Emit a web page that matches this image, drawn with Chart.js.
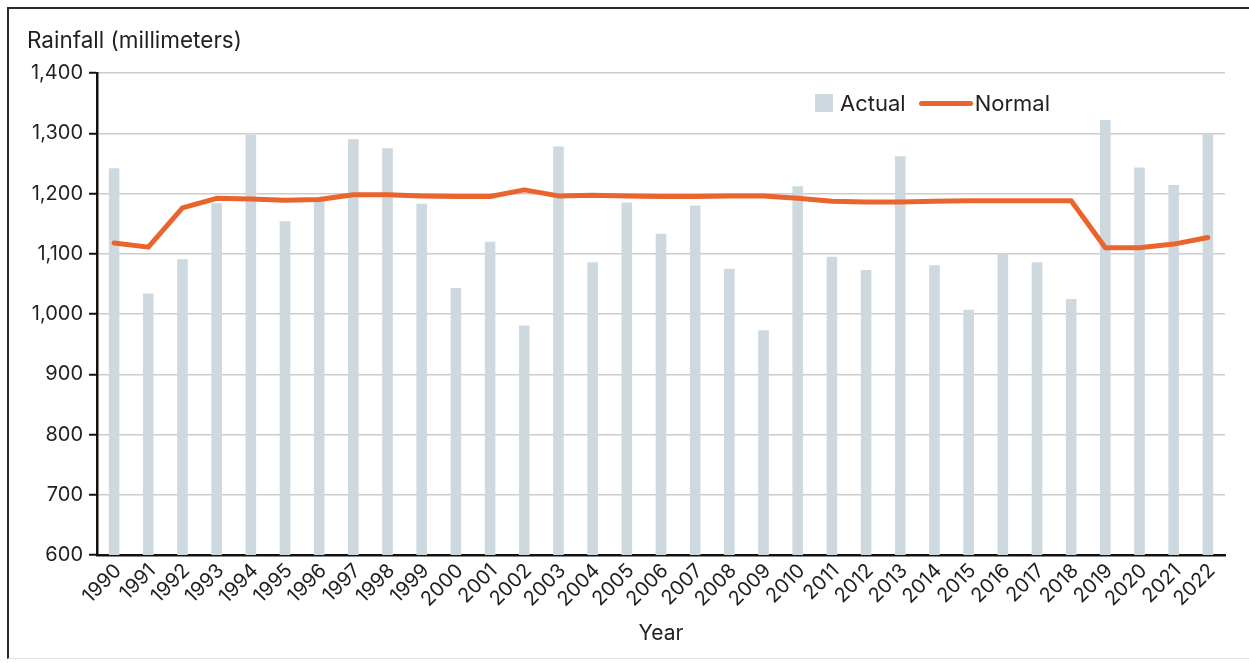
<!DOCTYPE html>
<html>
<head>
<meta charset="utf-8">
<title>Rainfall</title>
<script src="https://cdn.jsdelivr.net/npm/chart.js@4.4.1/dist/chart.umd.min.js"></script>
<style>
  html, body { margin: 0; padding: 0; background: #fff; }
  body { width: 1249px; height: 663px; position: relative; overflow: hidden;
         font-family: Inter, "Liberation Sans", sans-serif; color: #231f20; }
  #frame { position: absolute; left: 7px; top: 7px; width: 1250px; height: 652px;
           border-left: 2px solid #2a2a2a; border-top: 2px solid #2a2a2a;
           border-bottom: 1px solid #e2e2e2; box-sizing: border-box; }
  #wrap { position: absolute; left: 0; top: 0; width: 1249px; height: 663px; }
  #ytitle { position: absolute; left: 27px; top: 26px; font-size: 22.5px; white-space: nowrap; }
  #legend { position: absolute; left: 815px; top: 90px; display: flex; align-items: center;
            font-size: 22px; white-space: nowrap; }
  .sw-box { width: 18px; height: 18px; margin-right: 7px; }
  .sw-line { width: 54px; height: 5px; border-radius: 3px; margin: 0 2px 0 13px; }
</style>
</head>
<body>
<div id="frame"></div>
<div id="wrap"><canvas id="c" width="1249" height="663"></canvas></div>
<div id="ytitle">Rainfall (millimeters)</div>
<div id="legend"></div>
<script>
const years = ['1990','1991','1992','1993','1994','1995','1996','1997','1998','1999',
  '2000','2001','2002','2003','2004','2005','2006','2007','2008','2009',
  '2010','2011','2012','2013','2014','2015','2016','2017','2018','2019',
  '2020','2021','2022'];

// Annual rainfall actually recorded (mm)
const actualRainfall = [1242, 1034, 1091, 1184, 1297, 1154, 1189, 1290, 1275, 1183,
  1043, 1120, 981, 1278, 1086, 1185, 1133, 1180, 1075, 973,
  1212, 1095, 1073, 1262, 1081, 1007, 1100, 1086, 1025, 1322,
  1243, 1214, 1300];

// Long-term normal rainfall (mm)
const normalRainfall = [1118, 1111, 1176, 1192, 1191, 1189, 1190, 1198, 1198, 1196,
  1195, 1195, 1206, 1196, 1197, 1196, 1195, 1195, 1196, 1196,
  1192, 1187, 1186, 1186, 1187, 1188, 1188, 1188, 1188, 1110,
  1110, 1116, 1127];

const yTicks = [600, 700, 800, 900, 1000, 1100, 1200, 1300, 1400];

const barColor = '#cdd8df';
const lineColor = '#ea652d';
const inkColor = '#231f20';
const fontFamily = 'Inter, "Liberation Sans", sans-serif';

const chart = new Chart(document.getElementById('c'), {
  type: 'bar',
  data: {
    labels: years,
    datasets: [
      {
        type: 'bar',
        label: 'Actual',
        data: actualRainfall,
        backgroundColor: barColor,
        categoryPercentage: 1,
        barPercentage: 0.31,
        order: 1
      },
      {
        type: 'line',
        label: 'Normal',
        data: normalRainfall,
        borderColor: lineColor,
        backgroundColor: lineColor,
        borderWidth: 5,
        pointRadius: 0,
        tension: 0,
        borderCapStyle: 'round',
        borderJoinStyle: 'round',
        order: 0
      }
    ]
  },
  options: {
    responsive: false,
    animation: false,
    events: [],
    layout: { padding: { top: 73, right: 24, left: 0, bottom: 0 } },
    plugins: {
      legend: { display: false },
      title: { display: false },
      tooltip: { enabled: false }
    },
    scales: {
      x: {
        offset: true,
        grid: { display: false, drawTicks: false },
        border: { display: true, color: '#111', width: 2.5 },
        ticks: {
          color: inkColor,
          font: { family: fontFamily, size: 20 },
          minRotation: 45,
          maxRotation: 45,
          padding: 4,
          labelOffset: 4,
          autoSkip: false
        },
        title: {
          display: true,
          text: 'Year',
          color: inkColor,
          font: { family: fontFamily, size: 21 },
          padding: { top: 0, bottom: 17 }
        },
        afterFit(scale) { scale.height = 108; }
      },
      y: {
        min: 600,
        max: 1400,
        afterBuildTicks(scale) { scale.ticks = yTicks.map(v => ({ value: v })); },
        grid: {
          color: '#cccccc',
          lineWidth: 1.5,
          drawTicks: true,
          tickLength: 8,
          tickColor: '#111',
          tickWidth: 2
        },
        border: { display: true, color: '#111', width: 2.5 },
        ticks: {
          color: inkColor,
          font: { family: fontFamily, size: 20 },
          padding: 6,
          callback: v => v.toLocaleString('en-US')
        },
        afterFit(scale) { scale.width = 97; }
      }
    }
  }
});

// Legend built from the chart's own datasets
const legendEl = document.getElementById('legend');
chart.data.datasets.forEach(ds => {
  const sw = document.createElement('span');
  if (ds.type === 'line') {
    sw.className = 'sw-line';
    sw.style.background = ds.borderColor;
  } else {
    sw.className = 'sw-box';
    sw.style.background = ds.backgroundColor;
  }
  const txt = document.createElement('span');
  txt.textContent = ds.label;
  legendEl.appendChild(sw);
  legendEl.appendChild(txt);
});
</script>
</body>
</html>
